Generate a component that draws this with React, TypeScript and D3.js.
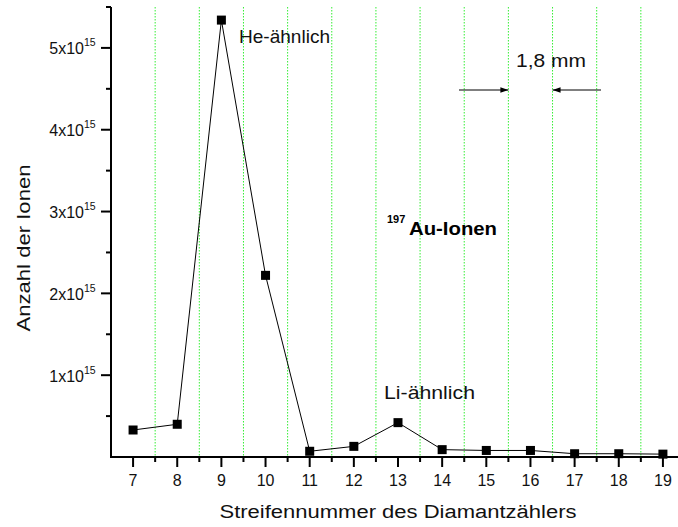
import * as d3 from "d3";
import React from "react";

// Streifennummer (x) und Anzahl der Ionen in Einheiten von 1e15
const strips = [7, 8, 9, 10, 11, 12, 13, 14, 15, 16, 17, 18, 19];
const ions = [0.33, 0.4, 5.34, 2.22, 0.07, 0.13, 0.42, 0.09, 0.08, 0.08, 0.04, 0.04, 0.035];
const yMajor = [1, 2, 3, 4, 5];
const yMinor = [0.5, 1.5, 2.5, 3.5, 4.5, 5.5];
const gridAt = [7.5, 8.5, 9.5, 10.5, 11.5, 12.5, 13.5, 14.5, 15.5, 16.5, 17.5, 18.5];

const W = 678;
const H = 527;
const FONT = "Arial, 'Liberation Sans', Helvetica, sans-serif";

export default function App() {
  const x = d3.scaleLinear().domain([6.5, 19.5]).range([111, 685]);
  const y = d3.scaleLinear().domain([0, 5.5]).range([457, 7]);
  const line = d3
    .line<number>()
    .x((_, i) => x(strips[i]))
    .y((d) => y(d));

  const y0 = y(0);
  const arrowY = 90;

  return (
    <svg
      width={W}
      height={H}
      style={{ position: "absolute", left: 0, top: 0, background: "#fff" }}
      fontFamily={FONT}
    >
      <defs>
        <marker id="ah" viewBox="0 0 10 10" refX="10" refY="5" markerWidth="10" markerHeight="8" orient="auto" markerUnits="userSpaceOnUse">
          <path d="M0,1.5 L10,5 L0,8.5 Z" fill="#000" />
        </marker>
      </defs>

      {/* grüne gepunktete Linien */}
      {gridAt.map((g) => (
        <line key={g} x1={x(g)} x2={x(g)} y1={y(5.5)} y2={y0} stroke="#33ee33" strokeWidth={1} strokeDasharray="1.5,1.5" />
      ))}

      {/* Achsen */}
      <line x1={x(6.5)} x2={x(6.5)} y1={y(5.5)} y2={y0 + 1} stroke="#000" strokeWidth={2} />
      <line x1={x(6.5) - 1} x2={W} y1={y0} y2={y0} stroke="#000" strokeWidth={2} />

      {yMajor.map((t) => (
        <g key={"ym" + t}>
          <line x1={x(6.5) - 10} x2={x(6.5)} y1={y(t)} y2={y(t)} stroke="#000" strokeWidth={2} />
          <text x={84} y={y(t) + 6.5} fontSize={16} textAnchor="end" fill="#111">
            {t}x10
          </text>
          <text x={84} y={y(t) - 1.5} fontSize={10.5} fill="#111">
            15
          </text>
        </g>
      ))}
      {yMinor.map((t) => (
        <line key={"yn" + t} x1={x(6.5) - 5} x2={x(6.5)} y1={y(t)} y2={y(t)} stroke="#000" strokeWidth={2} />
      ))}

      {strips.map((s) => (
        <g key={"xm" + s}>
          <line x1={x(s)} x2={x(s)} y1={y0} y2={y0 + 10} stroke="#000" strokeWidth={2} />
          <text x={x(s)} y={486} fontSize={16} textAnchor="middle" fill="#111">
            {s}
          </text>
        </g>
      ))}
      {gridAt.map((g) => (
        <line key={"xn" + g} x1={x(g)} x2={x(g)} y1={y0} y2={y0 + 5} stroke="#000" strokeWidth={2} />
      ))}

      {/* Achsentitel */}
      <text x={398} y={518} fontSize={18} textAnchor="middle" textLength={357} lengthAdjust="spacingAndGlyphs" fill="#111">
        Streifennummer des Diamantzählers
      </text>
      <text
        transform={`translate(30,248) rotate(-90)`}
        fontSize={18}
        textAnchor="middle"
        textLength={167}
        lengthAdjust="spacingAndGlyphs"
        fill="#111"
      >
        Anzahl der Ionen
      </text>

      {/* Daten */}
      <path d={line(ions) ?? ""} fill="none" stroke="#000" strokeWidth={1} />
      {ions.map((v, i) => (
        <rect key={"p" + i} x={x(strips[i]) - 4.5} y={y(v) - 4.5} width={9} height={9} fill="#000" />
      ))}

      {/* Beschriftungen */}
      <text x={239} y={43} fontSize={19} textLength={91} lengthAdjust="spacingAndGlyphs" fill="#111">
        He-ähnlich
      </text>
      <text x={384} y={399} fontSize={19} textLength={91} lengthAdjust="spacingAndGlyphs" fill="#111">
        Li-ähnlich
      </text>
      <text x={516} y={67} fontSize={19} textLength={70} lengthAdjust="spacingAndGlyphs" fill="#111">
        1,8 mm
      </text>
      <text x={387} y={223} fontSize={11} fontWeight="bold" fill="#000">
        197
      </text>
      <text x={409} y={235} fontSize={19} fontWeight="bold" textLength={88} lengthAdjust="spacingAndGlyphs" fill="#000">
        Au-Ionen
      </text>

      <line x1={459} x2={x(15.5)} y1={arrowY} y2={arrowY} stroke="#000" strokeWidth={1} markerEnd="url(#ah)" />
      <line x1={601} x2={x(16.5)} y1={arrowY} y2={arrowY} stroke="#000" strokeWidth={1} markerEnd="url(#ah)" />
    </svg>
  );
}
